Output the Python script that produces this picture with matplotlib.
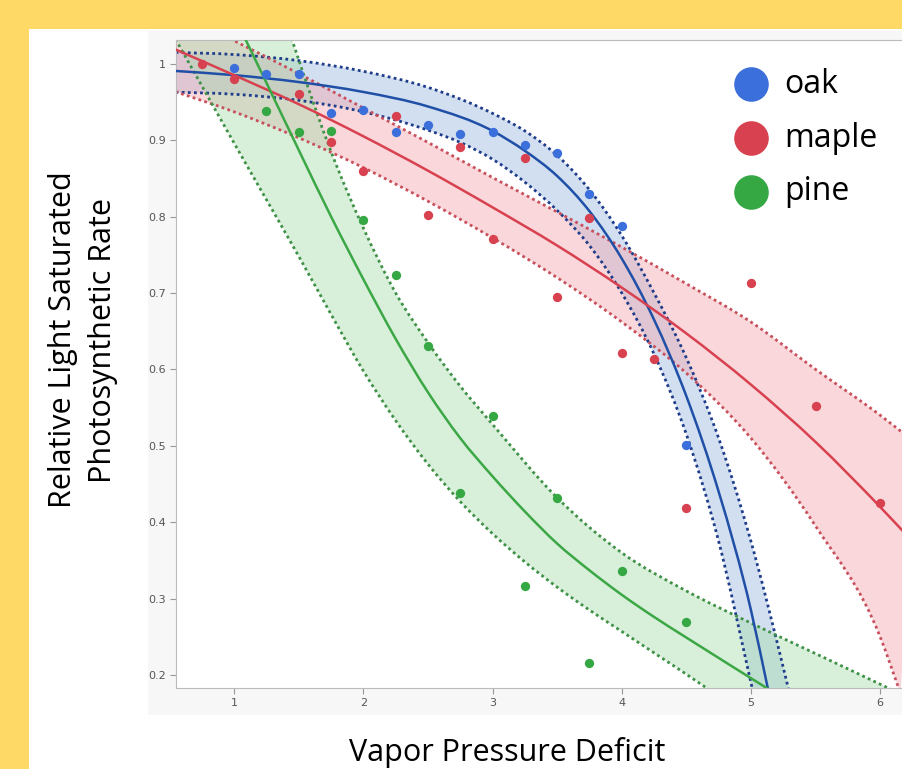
import numpy as np
import matplotlib.pyplot as plt
from matplotlib.patches import Rectangle, PathPatch
from matplotlib.path import Path

oak_x = [1, 1.25, 1.5, 1.75, 2, 2.25, 2.5, 2.75, 3, 3.25, 3.5, 3.75, 4, 4.5]
oak_y = [0.995, 0.987, 0.987, 0.935, 0.94, 0.911, 0.92, 0.908, 0.91, 0.893, 0.883, 0.83, 0.787, 0.501]

maple_x = [0.75, 1, 1.5, 1.75, 2, 2.25, 2.5, 2.75, 3, 3.25, 3.5, 3.75, 4, 4.25, 4.5, 5, 5.5, 6]
maple_y = [1.0, 0.98, 0.96, 0.897, 0.86, 0.932, 0.802, 0.891, 0.77, 0.876, 0.695, 0.798, 0.622, 0.613,
           0.418, 0.713, 0.552, 0.425]

pine_x = [1.25, 1.5, 1.75, 2, 2.25, 2.5, 2.75, 3, 3.25, 3.5, 3.75, 4, 4.5]
pine_y = [0.938, 0.911, 0.912, 0.795, 0.723, 0.631, 0.438, 0.539, 0.316, 0.431, 0.216, 0.336, 0.27]

# fitted curves and confidence limits
oak_fit_x = [0.5, 1.0, 1.5, 2.0, 2.5, 3.0, 3.25, 3.5, 3.75, 4.0, 4.25, 4.5, 4.75, 5.0, 5.14]
oak_fit_y = [0.991, 0.985, 0.976, 0.963, 0.944, 0.912, 0.886, 0.853, 0.807, 0.745, 0.665, 0.565, 0.44, 0.285, 0.175]
oak_lo_x = [0.5, 1.0, 1.5, 2.0, 2.5, 2.75, 3.0, 3.25, 3.5, 3.75, 4.0, 4.25, 4.5, 4.75, 5.0, 5.02]
oak_lo_y = [0.963, 0.960, 0.952, 0.937, 0.913, 0.897, 0.875, 0.845, 0.808, 0.762, 0.70, 0.62, 0.515,
            0.375, 0.19, 0.175]
oak_hi_x = [0.5, 1.0, 1.5, 2.0, 2.5, 3.0, 3.25, 3.5, 3.75, 4.0, 4.25, 4.5, 4.75, 5.0, 5.25, 5.3]
oak_hi_y = [1.015, 1.012, 1.004, 0.99, 0.969, 0.935, 0.912, 0.88, 0.835, 0.775, 0.70, 0.615, 0.51,
            0.375, 0.21, 0.175]

maple_fit_x = [0.5, 1.0, 1.5, 2.0, 2.5, 3.0, 3.5, 4.0, 4.5, 5.0, 5.5, 6.0, 6.25]
maple_fit_y = [1.022, 0.985, 0.947, 0.905, 0.86, 0.812, 0.762, 0.707, 0.647, 0.58, 0.505, 0.42, 0.375]
maple_lo_x = [0.5, 1.0, 1.5, 2.0, 2.5, 3.0, 3.5, 4.0, 4.5, 5.0, 5.5, 6.0, 6.16]
maple_lo_y = [0.966, 0.937, 0.903, 0.864, 0.82, 0.772, 0.72, 0.662, 0.595, 0.51, 0.395, 0.25, 0.175]
maple_hi_x = [0.5, 1.0, 1.5, 2.0, 2.5, 3.0, 3.5, 4.0, 4.5, 5.0, 5.5, 6.0, 6.25]
maple_hi_y = [1.072, 1.03, 0.987, 0.942, 0.897, 0.851, 0.806, 0.76, 0.712, 0.662, 0.60, 0.54, 0.507]

pine_fit_x = [1.05, 1.25, 1.5, 1.75, 2.0, 2.25, 2.5, 2.75, 3.0, 3.25, 3.5, 3.75, 4.0, 4.25, 4.5, 5.15]
pine_fit_y = [1.045, 0.975, 0.887, 0.80, 0.718, 0.64, 0.57, 0.51, 0.46, 0.414, 0.372, 0.337, 0.305,
              0.276, 0.249, 0.18]
pine_lo_x = [0.5, 0.75, 1.0, 1.25, 1.5, 1.75, 2.0, 2.25, 2.5, 2.75, 3.0, 3.25, 3.5, 3.75, 4.0, 4.25,
             4.5, 4.7]
pine_lo_y = [1.046, 0.971, 0.896, 0.822, 0.748, 0.672, 0.598, 0.533, 0.476, 0.427, 0.385, 0.348, 0.315,
             0.285, 0.257, 0.229, 0.201, 0.178]
pine_hi_x = [1.4, 1.5, 1.75, 2.0, 2.25, 2.5, 2.75, 3.0, 3.5, 4.0, 4.5, 5.0, 5.5, 6.0, 6.16]
pine_hi_y = [1.056, 1.005, 0.885, 0.785, 0.70, 0.635, 0.578, 0.528, 0.432, 0.36, 0.31, 0.268, 0.228,
             0.188, 0.175]

species = ['oak', 'maple', 'pine']
points = {'oak': (oak_x, oak_y), 'maple': (maple_x, maple_y), 'pine': (pine_x, pine_y)}
curves = {
    'oak': ((oak_fit_x, oak_fit_y), (oak_lo_x, oak_lo_y), (oak_hi_x, oak_hi_y)),
    'maple': ((maple_fit_x, maple_fit_y), (maple_lo_x, maple_lo_y), (maple_hi_x, maple_hi_y)),
    'pine': ((pine_fit_x, pine_fit_y), (pine_lo_x, pine_lo_y), (pine_hi_x, pine_hi_y)),
}

styles = {
    'oak':   dict(pt='#3B6FDB', line='#1F4FA6', fill='#9DB8E0', edge='#1E3C8A'),
    'maple': dict(pt='#D8414F', line='#D8414F', fill='#F2A7AF', edge='#C8505C'),
    'pine':  dict(pt='#35A843', line='#3BA745', fill='#A9DDAE', edge='#3F9147'),
}


def smooth_path(x, y, start=Path.MOVETO):
    # smooth curve through the read points: cubic Hermite in x, drawn as Bezier segments
    x = np.asarray(x, float)
    y = np.asarray(y, float)
    h = np.diff(x)
    s = np.diff(y) / h
    m = np.empty_like(y)
    m[0], m[-1] = s[0], s[-1]
    m[1:-1] = (s[:-1] * h[1:] + s[1:] * h[:-1]) / (h[:-1] + h[1:])
    verts, codes = [(x[0], y[0])], [start]
    for i in range(len(x) - 1):
        verts += [(x[i] + h[i] / 3, y[i] + m[i] * h[i] / 3),
                  (x[i + 1] - h[i] / 3, y[i + 1] - m[i + 1] * h[i] / 3),
                  (x[i + 1], y[i + 1])]
        codes += [Path.CURVE4] * 3
    return verts, codes


fig = plt.figure(figsize=(9.03, 7.69), dpi=100)
fig.patch.set_facecolor('#FFD966')
W, H = 903, 769
fig.patches.append(Rectangle((29 / W, 0), 1, 1 - 29 / H, transform=fig.transFigure,
                             facecolor='white', edgecolor='none', zorder=-2))
fig.patches.append(Rectangle((148 / W, 1 - 715 / H), 1, (715 - 31) / H, transform=fig.transFigure,
                             facecolor='#F7F7F7', edgecolor='none', zorder=-1))

ax = fig.add_axes([176 / W, 1 - 688 / H, 1 - 176 / W, (688 - 40) / H])
ax.set_zorder(5)
ax.set_facecolor('white')

for name in species:
    st = styles[name]
    (fx, fy), (lx, ly), (hx, hy) = curves[name]
    v1, c1 = smooth_path(lx, ly)
    v2, c2 = smooth_path(hx[::-1], hy[::-1], start=Path.LINETO)
    band = Path(v1 + v2 + [v1[0]], c1 + c2 + [Path.CLOSEPOLY])
    ax.add_patch(PathPatch(band, facecolor=st['fill'], alpha=0.45, lw=0, zorder=1))
    for bx, by in [(lx, ly), (hx, hy)]:
        v, c = smooth_path(bx, by)
        ax.add_patch(PathPatch(Path(v, c), fill=False, edgecolor=st['edge'], lw=2,
                               ls=(0, (1, 1.2)), zorder=2))
    v, c = smooth_path(fx, fy)
    ax.add_patch(PathPatch(Path(v, c), fill=False, edgecolor=st['line'], lw=1.8, zorder=3))
for name in species:
    x, y = points[name]
    ax.scatter(x, y, s=45, color=styles[name]['pt'], zorder=4, lw=0)

ax.set_xlim(0.55, 6.177)
ax.set_ylim(0.183, 1.031)
ax.set_xticks([1, 2, 3, 4, 5, 6])
ax.set_yticks([0.2, 0.3, 0.4, 0.5, 0.6, 0.7, 0.8, 0.9, 1.0])
ax.set_yticklabels(['0.2', '0.3', '0.4', '0.5', '0.6', '0.7', '0.8', '0.9', '1'])
ax.tick_params(colors='#999999', labelcolor='#555555', labelsize=8, length=4, width=0.8)
for side in ['left', 'bottom', 'top']:
    ax.spines[side].set_color('#BBBBBB')
ax.spines['right'].set_visible(False)

lab_font = 'Open Sans'
fig.text(507 / W, 1 - 753 / H, 'Vapor Pressure Deficit', ha='center', va='center',
         fontsize=22, family=lab_font)
fig.text(83 / W, 1 - 340 / H, 'Relative Light Saturated\nPhotosynthetic Rate', ha='center',
         va='center', rotation=90, fontsize=22, family=lab_font, linespacing=1.4)

# legend
handles = [ax.scatter([], [], s=620, color=styles[n]['pt'], lw=0) for n in species]
leg = ax.legend(handles, species, loc='upper left', bbox_to_anchor=(706 / W, 1 - 55 / H),
                bbox_transform=fig.transFigure, frameon=False, handletextpad=0.05,
                labelspacing=0.65, prop={'family': lab_font, 'size': 23}, borderaxespad=0)

fig.savefig('out.png', dpi=100, facecolor=fig.get_facecolor())
